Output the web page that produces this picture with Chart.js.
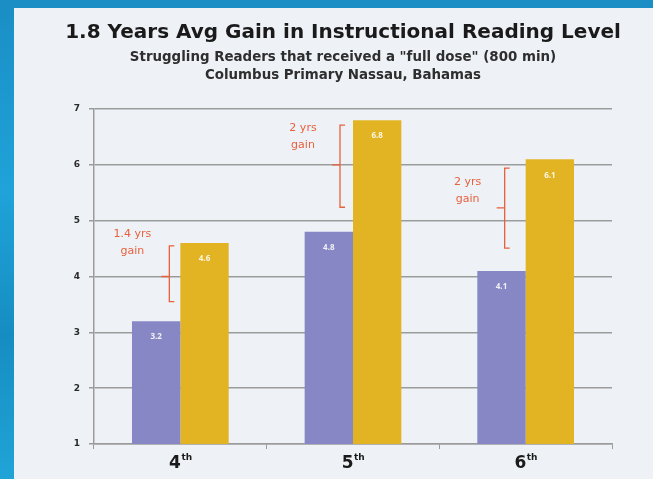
<!DOCTYPE html>
<html>
<head>
<meta charset="utf-8">
<script src="https://cdn.jsdelivr.net/npm/chart.js@4.4.1/dist/chart.umd.min.js"></script>
<style>
    html, body { margin: 0; padding: 0; }
    body {
        width: 653px;
        height: 479px;
        overflow: hidden;
        background: linear-gradient(180deg, #1a8ec5 0%, #1fa3d8 40%, #168dc2 70%, #20a4d7 100%);
        position: relative;
    }
    #panel {
        position: absolute;
        left: 14px;
        top: 8px;
        width: 639px;
        height: 471px;
        background: #eef2f7;
    }
</style>
</head>
<body>
<div id="panel"><canvas id="gainChart"></canvas></div>
<script>
const chartTitle = '1.8 Years Avg Gain in Instructional Reading Level';
const grades = ['4', '5', '6'];
const gradeSuffix = 'th';
const beforeLevel = [3.2, 4.8, 4.1];
const afterLevel = [4.6, 6.8, 6.1];
const yTicks = [1, 2, 3, 4, 5, 6, 7];
const gainText = ['1.4 yrs', '2 yrs', '2 yrs'];

// brace annotations, in reading-level units: [top, middle, bottom]
const braceSpan = [[4.55, 4.0, 3.55], [6.71, 6.0, 5.24], [5.94, 5.23, 4.51]];
const gainTextLevel = [4.76, 6.66, 5.69];
const braceOffset = [-11, -13, -21];

const textDark = '#1a1a1a';
const gridGray = '#9b9b9b';
const gainRed = '#e8603c';

// the title is a bit wider than the plot, so draw it here instead of the title plugin
const wideTitle = {
    id: 'wideTitle',
    afterDraw(chart) {
        const ctx = chart.ctx;
        ctx.save();
        ctx.font = 'bold 20px "DejaVu Sans"';
        ctx.fillStyle = textDark;
        ctx.textAlign = 'center';
        ctx.textBaseline = 'middle';
        ctx.fillText(chartTitle, 329, 25);
        ctx.restore();
    }
};

const valueLabels = {
    id: 'valueLabels',
    afterDatasetsDraw(chart) {
        const ctx = chart.ctx;
        ctx.save();
        ctx.font = 'bold 8px "Open Sans"';
        ctx.fillStyle = 'rgba(255, 255, 255, 0.88)';
        ctx.textAlign = 'center';
        ctx.textBaseline = 'middle';
        chart.data.datasets.forEach((ds, di) => {
            chart.getDatasetMeta(di).data.forEach((bar, i) => {
                ctx.fillText(ds.data[i].toFixed(1), bar.x, bar.y + 16);
            });
        });
        ctx.restore();
    }
};

const gainBraces = {
    id: 'gainBraces',
    afterDatasetsDraw(chart) {
        const ctx = chart.ctx;
        const yScale = chart.scales.y;
        const goldBars = chart.getDatasetMeta(1).data;
        ctx.save();
        ctx.strokeStyle = gainRed;
        ctx.lineWidth = 1.3;
        braceSpan.forEach((span, i) => {
            const bar = goldBars[i];
            const x = bar.x - bar.width / 2 + braceOffset[i];
            const top = yScale.getPixelForValue(span[0]);
            const mid = yScale.getPixelForValue(span[1]);
            const bottom = yScale.getPixelForValue(span[2]);
            ctx.beginPath();
            ctx.moveTo(x + 5, top);
            ctx.lineTo(x, top);
            ctx.lineTo(x, bottom);
            ctx.lineTo(x + 5, bottom);
            ctx.moveTo(x, mid);
            ctx.lineTo(x - 8, mid);
            ctx.stroke();

            const ty = yScale.getPixelForValue(gainTextLevel[i]);
            ctx.fillStyle = gainRed;
            ctx.font = '11px "DejaVu Sans"';
            ctx.textAlign = 'center';
            ctx.textBaseline = 'middle';
            ctx.fillText(gainText[i], x - 37, ty);
            ctx.fillText('gain', x - 37, ty + 17);
        });
        ctx.restore();
    }
};

const gradeLabels = {
    id: 'gradeLabels',
    afterDraw(chart) {
        const ctx = chart.ctx;
        const xScale = chart.scales.x;
        const y = chart.chartArea.bottom + 20;
        ctx.save();
        ctx.fillStyle = textDark;
        ctx.textBaseline = 'middle';
        ctx.textAlign = 'left';
        grades.forEach((g, i) => {
            const cx = xScale.getPixelForValue(i);
            ctx.font = 'bold 17px "DejaVu Sans"';
            const w1 = ctx.measureText(g).width;
            ctx.font = 'bold 9px "DejaVu Sans"';
            const w2 = ctx.measureText(gradeSuffix).width;
            const left = cx - (w1 + w2) / 2;
            ctx.font = 'bold 17px "DejaVu Sans"';
            ctx.fillText(g, left, y);
            ctx.font = 'bold 9px "DejaVu Sans"';
            ctx.fillText(gradeSuffix, left + w1 + 0.5, y - 6);
        });
        ctx.restore();
    }
};

new Chart(document.getElementById('gainChart'), {
    type: 'bar',
    data: {
        labels: grades.map((g) => g + gradeSuffix),
        datasets: [{
            label: 'Before',
            data: beforeLevel,
            backgroundColor: '#8787c5',
            categoryPercentage: 0.56,
            barPercentage: 1.0
        }, {
            label: 'After',
            data: afterLevel,
            backgroundColor: '#e2b424',
            categoryPercentage: 0.56,
            barPercentage: 1.0
        }]
    },
    options: {
        responsive: true,
        maintainAspectRatio: false,
        animation: false,
        layout: {
            padding: { left: 60, right: 41, top: 0, bottom: 0 }
        },
        plugins: {
            legend: { display: false },
            tooltip: { enabled: false },
            title: { display: false },
            subtitle: {
                display: true,
                text: ['Struggling Readers that received a "full dose" (800 min)', 'Columbus Primary Nassau, Bahamas'],
                color: '#2e2e2e',
                font: { family: '"DejaVu Sans"', size: 13.4, weight: 'bold', lineHeight: '18px' },
                padding: { top: 41, bottom: 24 }
            }
        },
        scales: {
            x: {
                afterFit: (scale) => { scale.height = 35; },
                grid: {
                    offset: true,
                    drawOnChartArea: false,
                    drawTicks: true,
                    tickLength: 5,
                    color: gridGray
                },
                border: { color: gridGray, width: 1.5 },
                ticks: {
                    color: 'rgba(0, 0, 0, 0)',
                    font: { family: '"DejaVu Sans"', size: 16, weight: 'bold' }
                }
            },
            y: {
                min: yTicks[0],
                max: yTicks[yTicks.length - 1],
                afterFit: (scale) => { scale.width = 20; },
                afterBuildTicks: (scale) => {
                    scale.ticks = yTicks.map((v) => ({ value: v }));
                },
                grid: {
                    color: gridGray,
                    lineWidth: 1.5,
                    tickLength: 5
                },
                border: { color: gridGray, width: 1.5 },
                ticks: {
                    color: '#2a2a2a',
                    padding: 9,
                    font: { family: '"DejaVu Sans"', size: 9, weight: 'bold' }
                }
            }
        }
    },
    plugins: [wideTitle, valueLabels, gainBraces, gradeLabels]
});
</script>
</body>
</html>
